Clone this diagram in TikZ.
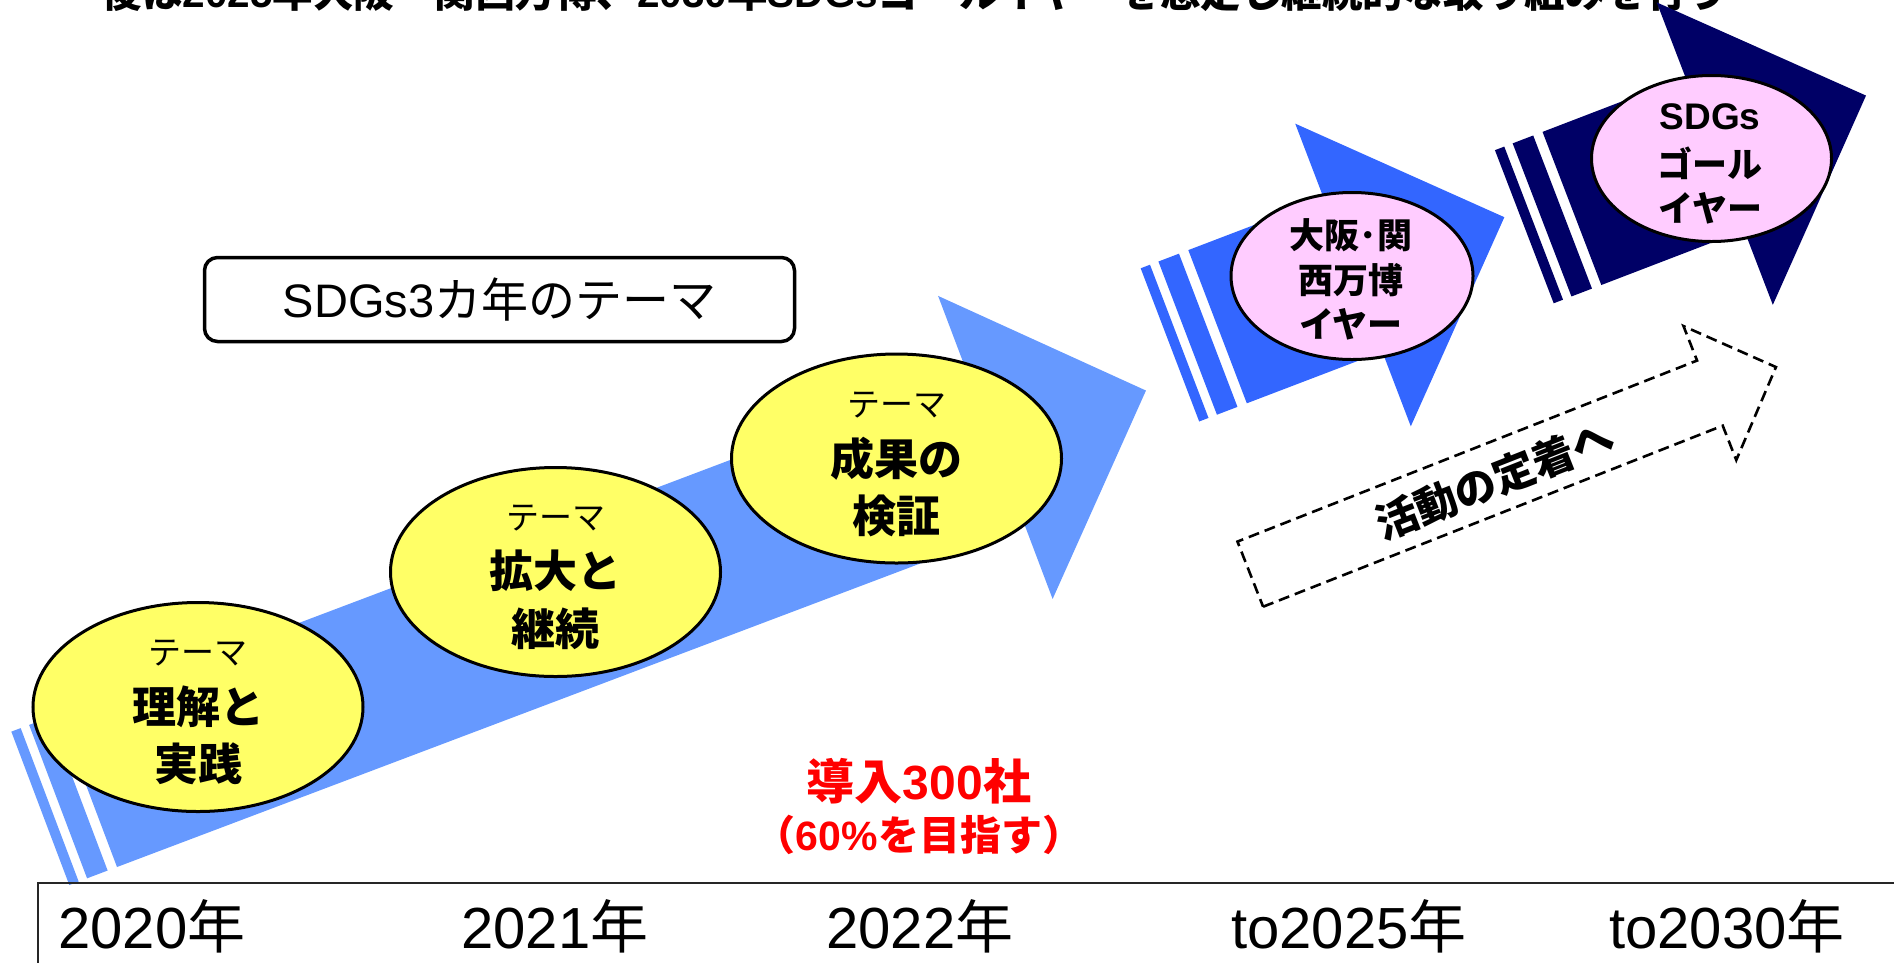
\documentclass[tikz,border=0pt]{standalone}
\usepackage{fontspec}
\setmainfont{Noto Sans CJK JP}
\newfontfamily\lat{Liberation Sans}
\usetikzlibrary{shapes.geometric}
\definecolor{lightblue}{HTML}{6699FF}
\definecolor{midblue}{HTML}{3366FF}
\definecolor{navyblue}{HTML}{000066}
\definecolor{themeyellow}{HTML}{FFFF66}
\definecolor{themepink}{HTML}{FFCCFF}
\begin{document}
\begin{tikzpicture}[x=1pt,y=1pt,
  yell/.style={ellipse, draw=black, line width=3pt, fill=themeyellow, minimum width=330pt, minimum height=209pt, inner sep=0pt},
  pinkell/.style={ellipse, draw=black, line width=3pt, fill=themepink, minimum width=242pt, minimum height=167pt, inner sep=0pt},
  lbl/.style={inner sep=0pt, align=center},
  smalltxt/.style={lbl, font=\fontsize{33}{33}\selectfont},
  bigtxt/.style={lbl, font=\fontsize{44}{44}\selectfont\bfseries},
  pinktxt/.style={lbl, font=\fontsize{35}{35}\selectfont\bfseries},
  yeartxt/.style={inner sep=0pt, anchor=base, font=\fontsize{58}{58}\selectfont},
  redtxt/.style={inner sep=0pt, anchor=base, text=red},
  dasharrow/.style={draw=black, line width=2.6pt, dash pattern=on 11pt off 6pt, line join=miter}
]
\useasboundingbox (0,0) rectangle (1894,-962);
\clip (0,0) rectangle (1894,-962);

% title line (cut at the top)
\node[inner sep=0pt, anchor=base, font=\fontsize{40.5}{40.5}\selectfont\bfseries] (title) at (914.5,-7)
  {後は{\lat 2025}年大阪・関西万博、{\lat 2030}年{\lat SDGs}ゴールイヤーを想定し継続的な取り組みを行う};

% big light blue arrow
\begin{scope}[shift={(117,-867)}, rotate=20.7]
  \fill[lightblue] (-51,0) rectangle (-41,164);
  \fill[lightblue] (-32,0) rectangle (-10,164);
  \fill[lightblue] (0,0) -- (970,0) -- (970,-80) -- (1131,82) -- (970,244) -- (970,164) -- (0,164) -- cycle;
\end{scope}

% medium blue arrow
\begin{scope}[shift={(1246.8,-403.3)}, rotate=20.9]
  \fill[midblue] (-51,0) rectangle (-41,164);
  \fill[midblue] (-32,0) rectangle (-10,164);
  \fill[midblue] (0,0) -- (145,0) -- (145,-80) -- (307,82) -- (145,244) -- (145,164) -- (0,164) -- cycle;
\end{scope}

% navy arrow
\begin{scope}[shift={(1601.3,-285)}, rotate=21]
  \fill[navyblue] (-51,0) rectangle (-41,164);
  \fill[navyblue] (-32,0) rectangle (-10,164);
  \fill[navyblue] (0,0) -- (153,0) -- (153,-80) -- (315,82) -- (153,244) -- (153,164) -- (0,164) -- cycle;
\end{scope}

% yellow ellipses
\node[yell] (e1) at (198,-707) {};
\node[smalltxt] (e1a) at (198,-653) {テーマ};
\node[bigtxt] (e1b) at (198,-707) {理解と};
\node[bigtxt] (e1c) at (198,-764) {実践};

\node[yell] (e2) at (555.5,-572) {};
\node[smalltxt] (e2a) at (555.5,-518) {テーマ};
\node[bigtxt] (e2b) at (555.5,-571) {拡大と};
\node[bigtxt] (e2c) at (555.5,-629) {継続};

\node[yell] (e3) at (896.5,-458.5) {};
\node[smalltxt] (e3a) at (896.5,-405) {テーマ};
\node[bigtxt] (e3b) at (896.5,-459) {成果の};
\node[bigtxt] (e3c) at (896.5,-516) {検証};

% pink circles
\node[pinkell] (p1) at (1352,-276) {};
\node[pinktxt] (p1a) at (1351,-235) {大阪･関};
\node[pinktxt] (p1b) at (1351,-280) {西万博};
\node[pinktxt] (p1c) at (1351,-324) {イヤー};

\node[pinkell, minimum width=240pt, minimum height=166pt] (p2) at (1711.5,-158.5) {};
\node[pinktxt, font=\fontsize{37}{37}\selectfont\bfseries\lat] (p2a) at (1710,-117) {SDGs};
\node[pinktxt] (p2b) at (1710,-163) {ゴール};
\node[pinktxt] (p2c) at (1710,-208) {イヤー};

% theme box
\node[draw=black, line width=3.5pt, rounded corners=13pt, minimum width=590pt, minimum height=84pt, inner sep=0pt,
  font=\fontsize{47}{47}\selectfont] (themebox) at (499.5,-299.5) {{\lat SDGs3}カ年のテーマ};

% dashed arrow
\begin{scope}[shift={(1263.1,-606.7)}, rotate=21.5]
  \draw[dasharrow] (0,0) -- (494,0) -- (494,-37) -- (565,35) -- (494,107) -- (494,70) -- (0,70) -- cycle;
  \node[transform shape, inner sep=0pt, font=\fontsize{42}{42}\selectfont\bfseries] (activity) at (262,33) {活動の定着へ};
\end{scope}

% red target text
\node[redtxt, font=\fontsize{48}{48}\selectfont\bfseries] (r1) at (919,-799) {導入{\lat 300}社};
\node[redtxt, font=\fontsize{41}{41}\selectfont\bfseries] (r2) at (919,-850) {（{\lat 60\%}を目指す）};

% timeline box
\draw[line width=2pt, draw=black!85] (38,-883) rectangle (1930,-1000);
\node[yeartxt] (y1) at (152,-948) {{\lat 2020}年};
\node[yeartxt] (y2) at (555,-948) {{\lat 2021}年};
\node[yeartxt] (y3) at (920,-948) {{\lat 2022}年};
\node[yeartxt] (y4) at (1349,-948) {{\lat to2025}年};
\node[yeartxt] (y5) at (1727,-948) {{\lat to2030}年};
\end{tikzpicture}
\end{document}
